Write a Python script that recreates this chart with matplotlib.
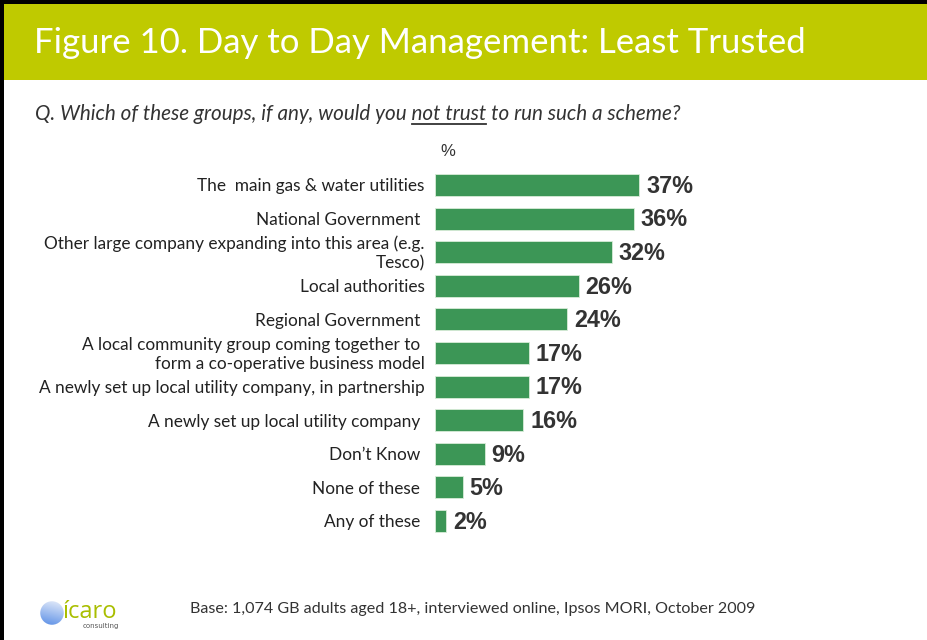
import numpy as np
import matplotlib.pyplot as plt
from matplotlib.patches import Rectangle, Circle

W, H = 927, 640

categories = [
    "The  main gas & water utilities",
    "National Government ",
    "Other large company expanding into this area (e.g.\nTesco)",
    "Local authorities",
    "Regional Government ",
    "A local community group coming together to \nform a co-operative business model",
    "A newly set up local utility company, in partnership",
    "A newly set up local utility company ",
    "Don\u2019t Know ",
    "None of these ",
    "Any of these ",
]
values = [37, 36, 32, 26, 24, 17, 17, 16, 9, 5, 2]

title = "Figure 10. Day to Day Management: Least Trusted"
q_before = "Q. Which of these groups, if any, would you "
q_under = "not trust"
q_after = " to run such a scheme?"
footnote = "Base: 1,074 GB adults aged 18+, interviewed online, Ipsos MORI, October 2009"

GREEN_BAR = "#3c9656"
OLIVE = "#bfca00"
DARK = "#333333"
LABEL_FONT = "Lato"


def fx(px):
    return px / W


def fy(py):
    return 1 - py / H


fig = plt.figure(figsize=(W / 100, H / 100), dpi=100)
fig.patch.set_facecolor("white")

# frame and title band
fig.patches.append(Rectangle((0, fy(80)), 1, 80 / H, transform=fig.transFigure,
                             facecolor=OLIVE, edgecolor="none", zorder=0))
fig.patches.append(Rectangle((0, fy(4)), 1, 4 / H, transform=fig.transFigure,
                             facecolor="black", edgecolor="none", zorder=1))
fig.patches.append(Rectangle((0, 0), 4 / W, 1, transform=fig.transFigure,
                             facecolor="black", edgecolor="none", zorder=1))

fig.text(fx(34), fy(43), title, color="white", fontsize=25, family=LABEL_FONT,
         va="center", ha="left")

# question line with underlined part
qkw = dict(fontsize=14.9, family=LABEL_FONT, style="italic", color=DARK, va="baseline")
qy = fy(120)
fig.canvas.draw()
rend = fig.canvas.get_renderer()
t_full = fig.text(fx(35), qy, q_before + q_under + q_after, **qkw)
probe_a = fig.text(fx(35), qy, q_before + q_under, **qkw)
probe_b = fig.text(fx(35), qy, q_under, **qkw)
wa = probe_a.get_window_extent(rend).width
wb = probe_b.get_window_extent(rend).width
probe_a.remove()
probe_b.remove()
x_end = 35 + wa
x_start = x_end - wb
fig.add_artist(plt.Line2D([fx(x_start), fx(x_end)], [fy(124), fy(124)],
                          transform=fig.transFigure, color=DARK, lw=1.3))

# bar chart
ax_left, ax_top, ax_bottom, ax_right = 435, 168.2, 537.8, 915
ax = fig.add_axes([fx(ax_left), fy(ax_bottom), fx(ax_right - ax_left),
                   (ax_bottom - ax_top) / H])
y = np.arange(len(values))
ax.barh(y, values, height=0.66, color=GREEN_BAR, edgecolor="#d8ecd8", linewidth=0.6)
ax.set_xlim(0, (ax_right - ax_left) / 5.52)
ax.set_ylim(len(values) - 0.5, -0.5)
ax.axis("off")

for yi, v in zip(y, values):
    ax.annotate(f"{v}%", (v, yi), xytext=(5, -1), textcoords="offset points",
                ha="left", va="center", fontsize=16.8, fontweight="bold",
                family="Liberation Sans", color=DARK)
    ax.annotate(categories[yi], (0, yi), xytext=(-7.5, -1), textcoords="offset points",
                ha="right", va="center", fontsize=12.4, family=LABEL_FONT,
                color="#222222", multialignment="right", linespacing=1.2)

fig.text(fx(440), fy(152), "%", fontsize=12, family="Liberation Sans",
         color=DARK, va="center", ha="left")

# logo
lax = fig.add_axes([fx(40), fy(625), fx(24), 24 / H])
lax.set_xlim(-1, 1)
lax.set_ylim(-1, 1)
lax.axis("off")
gx, gy = np.meshgrid(np.linspace(-1, 1, 80), np.linspace(-1, 1, 80))
shade = np.clip(0.5 * (gy + 1) * 0.8 + 0.2 * (gx + 1) / 2, 0, 1)
grad = plt.cm.colors.LinearSegmentedColormap.from_list("sph", ["#5b8fe6", "#e8eefa"])
img = lax.imshow(shade, cmap=grad, extent=(-1, 1, -1, 1), origin="lower")
circ = Circle((0, 0), 0.98, transform=lax.transData)
img.set_clip_path(circ)

fig.text(fx(62), fy(618), "\u00edcaro", fontsize=17, family="Open Sans",
         color="#a9be00", va="baseline", ha="left")
fig.text(fx(83), fy(628), "consulting", fontsize=5, family="DejaVu Sans",
         color="#555555", va="baseline", ha="left")

fig.text(fx(190), fy(609), footnote, fontsize=11.6, family=LABEL_FONT,
         color=DARK, va="center", ha="left")

fig.savefig("out.png", dpi=100)
